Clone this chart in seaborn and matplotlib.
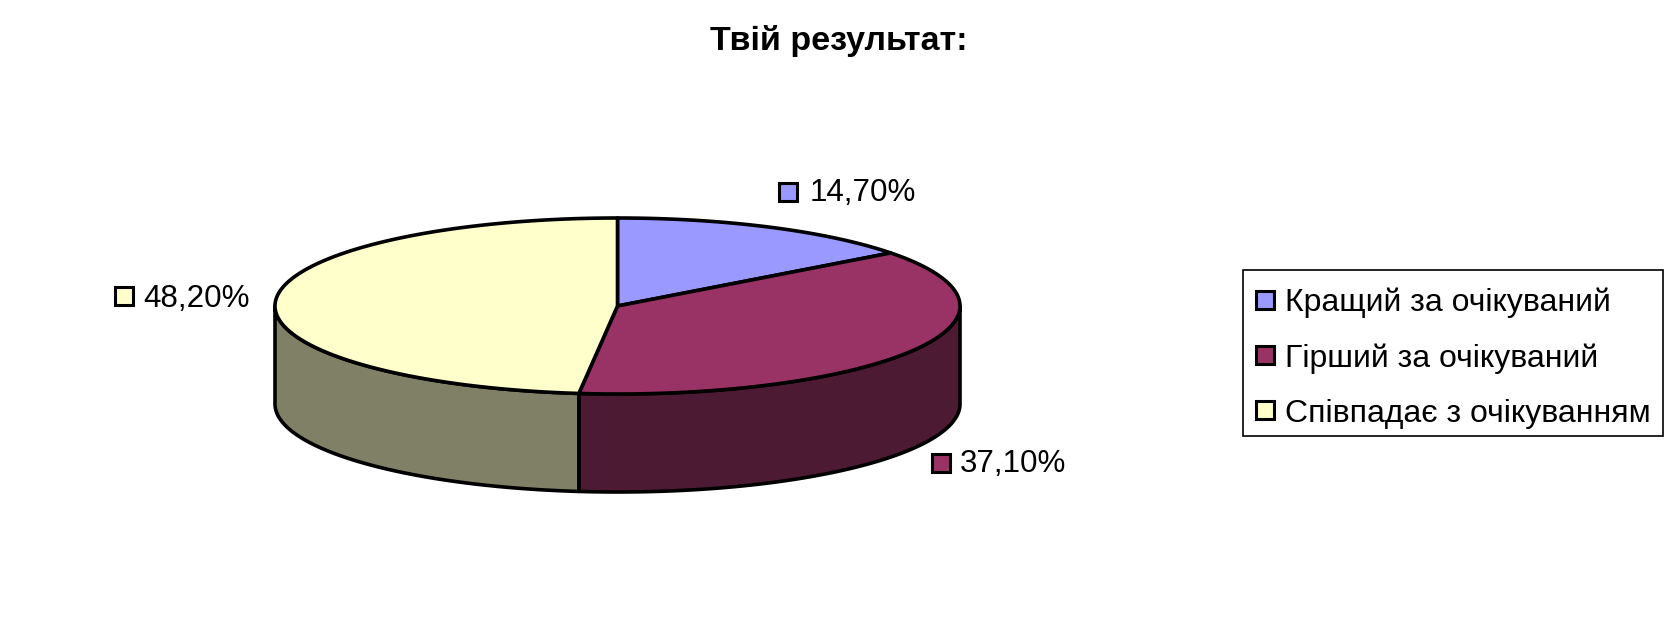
import numpy as np
import matplotlib
matplotlib.use("Agg")
import matplotlib.pyplot as plt
from matplotlib.patches import Polygon, Rectangle
from matplotlib.lines import Line2D
import seaborn as sns

title = "Твій результат:"
categories = ["Кращий за очікуваний", "Гірший за очікуваний", "Співпадає з очікуванням"]
values = [14.7, 37.1, 48.2]
value_labels = ["14,70%", "37,10%", "48,20%"]
top_colors = ["#9999FF", "#993366", "#FFFFCC"]
side_colors = ["#4D4D80", "#4D1A33", "#808066"]

sns.set_theme(style="white")
plt.rcParams["font.family"] = ["Liberation Sans", "DejaVu Sans"]
palette = sns.color_palette(top_colors)
side_palette = sns.color_palette(side_colors)

fig, ax = plt.subplots(figsize=(16.7, 6.2), dpi=100)
ax.set_position([0, 0, 1, 1])
ax.set_xlim(0, 1670)
ax.set_ylim(620, 0)
ax.axis("off")

CX, CY, RX, RY, DEPTH = 617.5, 306, 342.5, 88, 98
LW = 2.6


def rim(a0, a1, dy=0.0):
    t = np.radians(np.linspace(a0, a1, 200))
    return np.column_stack([CX + RX * np.sin(t), CY + dy - RY * np.cos(t)])


edges = np.concatenate([[0], np.cumsum(values)]) / sum(values) * 360
# side walls: only the front half (90..270 degrees clockwise from top) is visible
for i in range(len(values)):
    a0, a1 = max(edges[i], 90), min(edges[i + 1], 270)
    if a1 > a0:
        pts = np.vstack([rim(a0, a1), rim(a0, a1, DEPTH)[::-1]])
        ax.add_patch(Polygon(pts, closed=True, facecolor=side_palette[i],
                             edgecolor="black", lw=LW, joinstyle="round", zorder=2))
# top faces
for i in range(len(values)):
    pts = np.vstack([[CX, CY], rim(edges[i], edges[i + 1])])
    ax.add_patch(Polygon(pts, closed=True, facecolor=palette[i],
                         edgecolor="black", lw=LW, joinstyle="round", zorder=3))

ax.text(839, 41, title, ha="center", va="center", fontsize=24.5, fontweight="bold", color="black")

label_pos = [(788, 192), (941, 463), (124, 296)]
text_pos = [(810, 189.5), (960, 460), (143, 295.5)]
for i, (x, y) in enumerate(label_pos):
    ax.plot([x], [y], marker="s", ms=12.5, mfc=palette[i], mec="black", mew=2.2, ls="none", zorder=4)
    ax.text(*text_pos[i], value_labels[i], ha="left", va="center_baseline", fontsize=22.6, color="black", zorder=4)

ax.add_patch(Rectangle((1243, 270), 420, 166, facecolor="white", edgecolor="black", lw=1.2, zorder=1))
handles = [Line2D([], [], marker="s", ms=12.5, mfc=palette[i], mec="black", mew=2.2, ls="none")
           for i in range(len(values))]
leg = ax.legend(handles, categories, loc="lower left",
                bbox_to_anchor=(1243 / 1670, 1 - 444.5 / 620, 420 / 1670, 166 / 620),
                mode="expand", fontsize=23, frameon=False,
                labelspacing=0.78, handletextpad=0.48, handlelength=0.35,
                borderaxespad=0, borderpad=0.5, labelcolor="black")

fig.savefig("out.png", dpi=100, facecolor="white")
